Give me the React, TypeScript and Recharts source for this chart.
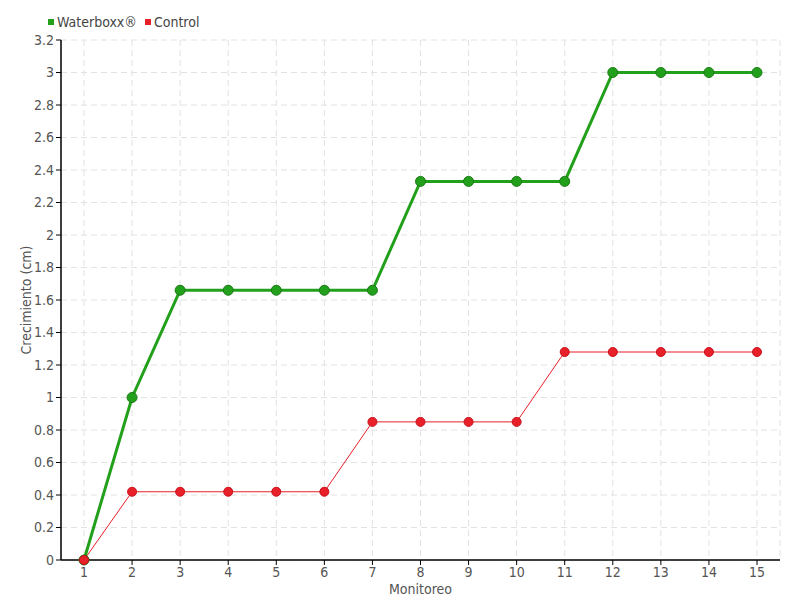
import React from 'react';
import { LineChart, Line, XAxis, YAxis, CartesianGrid } from 'recharts';

const monitoreo = ['1','2','3','4','5','6','7','8','9','10','11','12','13','14','15'];
const waterboxx = [0, 1.0, 1.66, 1.66, 1.66, 1.66, 1.66, 2.33, 2.33, 2.33, 2.33, 3, 3, 3, 3];
const control = [0, 0.42, 0.42, 0.42, 0.42, 0.42, 0.85, 0.85, 0.85, 0.85, 1.28, 1.28, 1.28, 1.28, 1.28];
const yTicks = [0, 0.2, 0.4, 0.6, 0.8, 1, 1.2, 1.4, 1.6, 1.8, 2, 2.2, 2.4, 2.6, 2.8, 3, 3.2];

const data = monitoreo.map((m, i) => ({ m, waterboxx: waterboxx[i], control: control[i] }));

const FONT = '"DejaVu Sans Condensed", "DejaVu Sans", sans-serif';
const GREEN = '#22a01b';
const RED = '#e8202a';
const txt = { fill: '#555', fontSize: 14, fontFamily: FONT, fontStretch: 'condensed' as const };

export default function App() {
  return (
    <div style={{ position: 'absolute', left: 0, top: 0, width: 800, height: 600, background: '#fff', fontFamily: FONT, fontStretch: 'condensed' }}>
      <div style={{ position: 'absolute', left: 48, top: 13, display: 'flex', alignItems: 'center', fontSize: 14, color: '#444', lineHeight: '18px' }}>
        <span style={{ display: 'inline-block', width: 6, height: 6, background: GREEN, marginRight: 3 }} />
        <span>Waterboxx®</span>
        <span style={{ display: 'inline-block', width: 6, height: 6, background: RED, marginLeft: 8, marginRight: 3 }} />
        <span>Control</span>
      </div>
      <LineChart width={800} height={600} data={data} margin={{ top: 40, right: 20, left: 0, bottom: 0 }} style={{ fontStretch: 'condensed' }}>
        <CartesianGrid stroke="#e2e2e2" strokeDasharray="6 4" />
        <XAxis
          dataKey="m"
          height={40}
          padding={{ left: 23, right: 23 }}
          interval={0}
          tick={txt}
          tickLine={{ stroke: '#000' }}
          tickSize={5}
          axisLine={{ stroke: '#000', strokeWidth: 1.5 }}
          label={{ value: 'Monitoreo', position: 'insideBottom', offset: 6, ...txt, style: { fill: '#555', fontStretch: 'condensed' } }}
        />
        <YAxis
          width={61}
          domain={[0, 3.2]}
          ticks={yTicks}
          interval={0}
          tick={txt}
          tickLine={{ stroke: '#000' }}
          tickSize={5}
          axisLine={{ stroke: '#000', strokeWidth: 1.5 }}
          label={{ value: 'Crecimiento (cm)', angle: -90, position: 'insideLeft', offset: 26, ...txt, style: { textAnchor: 'middle', fill: '#555', fontStretch: 'condensed' } }}
        />
        <Line
          type="linear"
          dataKey="waterboxx"
          stroke={GREEN}
          strokeWidth={3}
          dot={{ r: 5, fill: GREEN, stroke: '#1b7a15', strokeWidth: 1, fillOpacity: 1 }}
          activeDot={false}
          isAnimationActive={false}
        />
        <Line
          type="linear"
          dataKey="control"
          stroke={RED}
          strokeWidth={1}
          dot={{ r: 4.5, fill: RED, stroke: '#c8101a', strokeWidth: 1, fillOpacity: 1 }}
          activeDot={false}
          isAnimationActive={false}
        />
      </LineChart>
    </div>
  );
}
